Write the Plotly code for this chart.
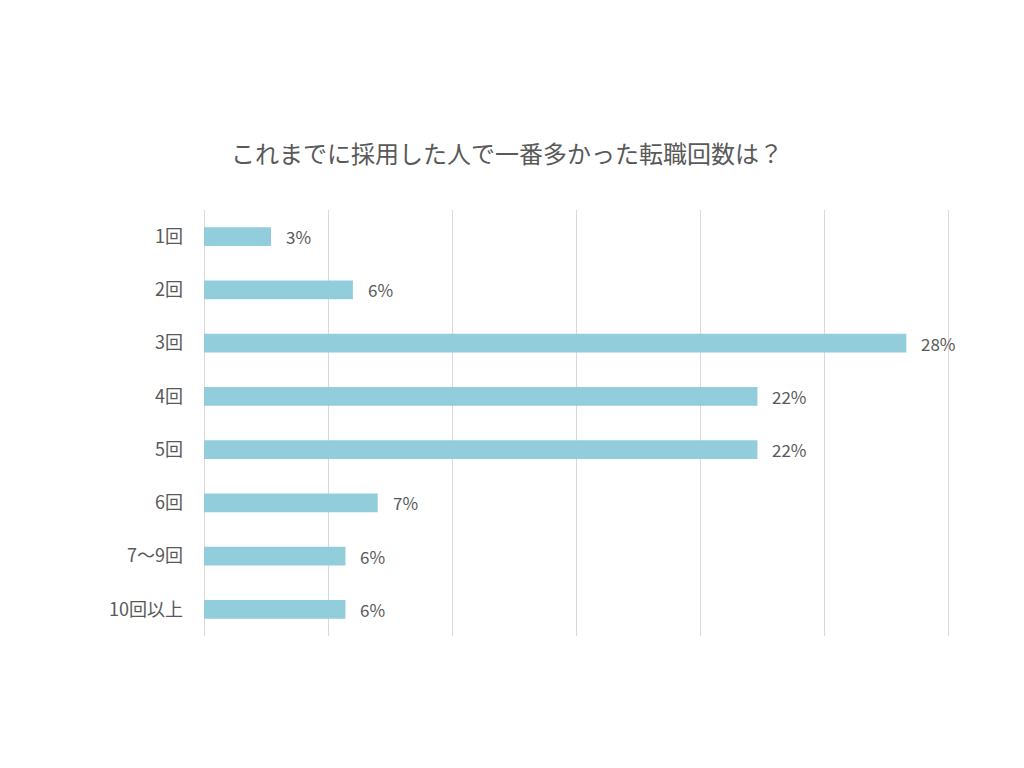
import plotly.graph_objects as go

categories = ["1回", "2回", "3回", "4回", "5回", "6回", "7～9回", "10回以上"]
values = [2.7, 6.0, 28.3, 22.3, 22.3, 7.0, 5.7, 5.7]
labels = [f"{round(v):d}%" for v in values]
title = "これまでに採用した人で一番多かった転職回数は？"

font_family = "Noto Sans CJK JP, Noto Sans, sans-serif"
text_color = "#595959"

fig = go.Figure()
fig.add_trace(go.Bar(
    y=categories,
    x=values,
    orientation="h",
    marker=dict(color="#92CDDC", line=dict(width=0)),
    hoverinfo="skip",
))

for cat, val, lab in zip(categories, values, labels):
    fig.add_annotation(
        x=val, y=cat, xref="x", yref="y",
        text=lab, showarrow=False,
        xanchor="left", yanchor="middle",
        xshift=13,
        font=dict(size=17, color=text_color, family=font_family),
    )

fig.update_layout(
    width=1024,
    height=768,
    paper_bgcolor="white",
    plot_bgcolor="white",
    margin=dict(l=204, r=73, t=210, b=132),
    bargap=0.65,
    showlegend=False,
    title=dict(
        text=title,
        xref="container",
        x=507 / 1024,
        xanchor="center",
        y=1 - 155 / 768,
        yanchor="middle",
        font=dict(size=24, color=text_color, family=font_family),
    ),
)
fig.update_xaxes(
    range=[0, 30.1],
    dtick=5,
    showgrid=True,
    gridcolor="#D9D9D9",
    gridwidth=1,
    zeroline=True,
    zerolinecolor="#D9D9D9",
    zerolinewidth=1,
    showticklabels=False,
    showline=False,
    ticks="",
)
fig.update_yaxes(
    autorange="reversed",
    showgrid=False,
    showline=False,
    ticks="",
    ticklabelstandoff=20,
    tickfont=dict(size=18, color=text_color, family=font_family),
)

fig.write_html("out.html")
